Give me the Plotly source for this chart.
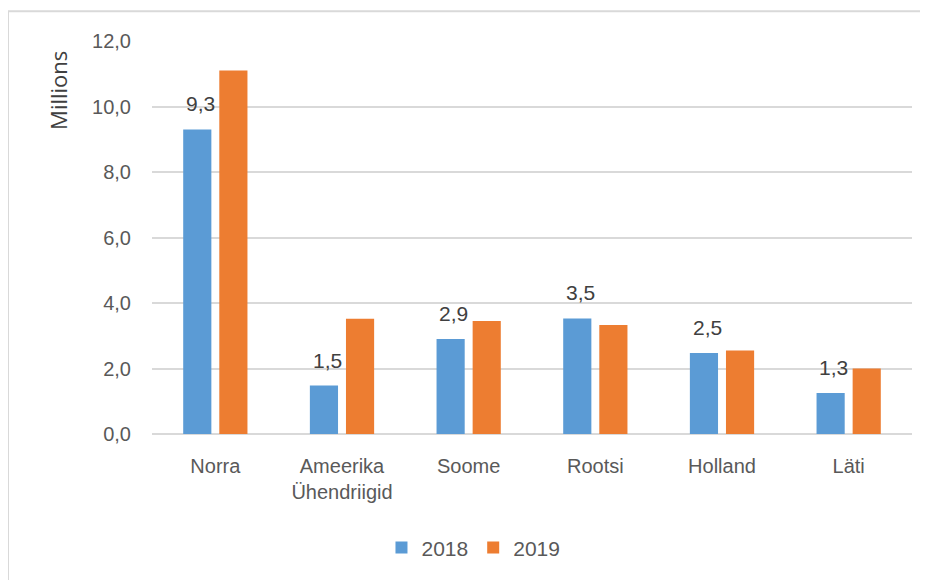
import plotly.graph_objects as go

categories = ["Norra", "Ameerika<br>Ühendriigid", "Soome", "Rootsi", "Holland", "Läti"]
values_2018 = [9.3, 1.48, 2.9, 3.53, 2.47, 1.25]
values_2019 = [11.1, 3.52, 3.45, 3.33, 2.55, 2.0]
labels_2018 = ["9,3", "1,5", "2,9", "3,5", "2,5", "1,3"]
y_ticks = [0, 2, 4, 6, 8, 10, 12]

BLUE = "#5B9BD5"
ORANGE = "#ED7D31"
TXT = "#595959"
FONT = "Liberation Sans, Arial, sans-serif"

fig = go.Figure()
fig.add_trace(go.Bar(name="2018", x=categories, y=values_2018, marker_color=BLUE,
                     marker_line_width=0))
fig.add_trace(go.Bar(name="2019", x=categories, y=values_2019, marker_color=ORANGE,
                     marker_line_width=0))

for c, v, t in zip(categories, values_2018, labels_2018):
    fig.add_annotation(x=c, y=v, text=t, showarrow=False, xanchor="center",
                       yanchor="bottom", xshift=-15, yshift=12,
                       font=dict(family=FONT, size=21, color="#404040"))

fig.add_annotation(xref="paper", yref="paper", x=-0.124, y=0.875, text="Millions",
                   textangle=-90, showarrow=False, xanchor="center", yanchor="middle",
                   font=dict(family="Open Sans, sans-serif", size=22, color="#404040"))

fig.add_shape(type="rect", xref="paper", yref="paper", x0=-0.1895, y0=1.0755, x1=1.2, y1=-0.5,
              line=dict(color="#d9d9d9", width=2), fillcolor="rgba(0,0,0,0)", layer="below")

fig.update_layout(
    width=928, height=580,
    margin=dict(l=144, r=24, t=33, b=154),
    paper_bgcolor="white", plot_bgcolor="white",
    barmode="group", bargap=0.43, bargroupgap=0.22,
    separators=", ",
    font=dict(family=FONT, size=20, color=TXT),
    showlegend=True,
    legend=dict(orientation="h", x=0.423, xanchor="center", y=-0.29, yanchor="middle",
                font=dict(family=FONT, size=21, color=TXT), itemwidth=30,
                tracegroupgap=0, traceorder="normal"),
    xaxis=dict(showgrid=False, showline=False, ticks="outside", ticklen=0,
               tickfont=dict(family=FONT, size=20, color=TXT), ticklabelstandoff=14),
    yaxis=dict(range=[0, 12], tickvals=y_ticks, tickformat=".1f",
               showgrid=True, gridcolor="#d9d9d9", gridwidth=2,
               zeroline=True, zerolinecolor="#d9d9d9", zerolinewidth=2,
               showline=False, ticks="", ticklabelstandoff=20,
               tickfont=dict(family=FONT, size=20, color=TXT)),
)

fig.write_html("out.html")
